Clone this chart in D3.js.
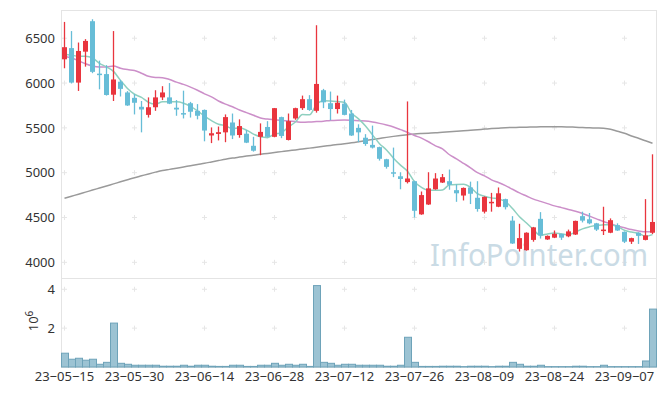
<!DOCTYPE html>
<html>
<head>
<meta charset="utf-8">
<script src="https://cdn.jsdelivr.net/npm/d3@7/dist/d3.min.js"></script>
<style>
  body { margin: 0; background: #fff; }
  svg { display: block; font-family: "Noto Sans", sans-serif; }
</style>
</head>
<body>
<svg id="chart" width="665" height="396"></svg>
<script>
// trading days 2023-05-15 .. 2023-09-13
var dates = [
  "23-05-15","23-05-16","23-05-17","23-05-18","23-05-19","23-05-22","23-05-23","23-05-24","23-05-25","23-05-26","23-05-30","23-05-31",
  "23-06-01","23-06-02","23-06-05","23-06-07","23-06-08","23-06-09","23-06-12","23-06-13","23-06-14","23-06-15","23-06-16","23-06-19",
  "23-06-20","23-06-21","23-06-22","23-06-23","23-06-26","23-06-27","23-06-28","23-06-29","23-06-30",
  "23-07-03","23-07-04","23-07-05","23-07-06","23-07-07","23-07-10","23-07-11","23-07-12","23-07-13","23-07-14","23-07-17","23-07-18",
  "23-07-19","23-07-20","23-07-21","23-07-24","23-07-25","23-07-26","23-07-27","23-07-28","23-07-31",
  "23-08-01","23-08-02","23-08-03","23-08-04","23-08-07","23-08-08","23-08-09","23-08-10","23-08-11","23-08-14","23-08-16","23-08-17",
  "23-08-18","23-08-21","23-08-22","23-08-23","23-08-24","23-08-25","23-08-28","23-08-29","23-08-30","23-08-31",
  "23-09-01","23-09-04","23-09-05","23-09-06","23-09-07","23-09-08","23-09-11","23-09-12","23-09-13"
];

var open = [6265,6390,6005,6350,6690,6105,6100,5870,6015,5895, 5835,5735,5645,5730,5840,5840,5725,5665,5775,5690,
  5700,5415,5432,5450,5560,5420,5435,5300,5400,5510, 5400,5620,5365,5605,5720,5820,5690,5920,5775,5710,
  5770,5660,5500,5390,5310,5285,5150,5005,4960,4895, 4905,4535,4645,4815,4890,4905,4805,4745,4835,4720,
  4565,4660,4620,4705,4465,4150,4135,4250,4485,4255, 4275,4318,4290,4310,4515,4480,4435,4355,4330,4415,
  4340,4230,4330,4250,4330];
var high = [6682,6580,6452,6490,6712,6250,6200,6580,6035,5910, 5875,5800,5840,5920,5965,6000,5810,5915,5790,5765,
  5705,5505,5515,5650,5660,5595,5475,5400,5550,5575, 5722,5625,5660,5725,5860,5865,6645,5935,5905,5860,
  5815,5700,5540,5430,5525,5290,5155,5280,5005,5795, 4910,4790,5005,4995,4985,5035,4870,4835,4900,4905,
  4735,4775,4835,4710,4515,4430,4335,4395,4560,4300, 4355,4320,4365,4465,4565,4550,4440,4620,4490,4435,
  4345,4275,4335,4705,5205];
var low = [6165,5995,5912,6183,6110,5930,5860,5800,5850,5745, 5650,5450,5615,5690,5810,5765,5635,5605,5615,5595,
  5350,5330,5360,5340,5375,5390,5330,5235,5195,5395, 5395,5385,5360,5590,5700,5690,5670,5720,5585,5660,
  5640,5410,5340,5300,5270,5135,5045,4950,4815,4880, 4500,4530,4640,4810,4885,4810,4675,4690,4650,4565,
  4545,4565,4615,4590,4205,4120,4130,4230,4265,4250, 4270,4250,4280,4305,4445,4425,4350,4305,4325,4350,
  4215,4205,4205,4245,4315];
var close = [6400,6005,6358,6470,6125,6095,5867,6040,5935,5750, 5780,5705,5730,5840,5895,5770,5705,5655,5680,5635,
  5470,5440,5452,5620,5415,5520,5335,5245,5455,5400, 5720,5410,5575,5720,5820,5700,5990,5785,5710,5780,
  5645,5415,5450,5320,5280,5155,5065,4990,4930,4935, 4575,4750,4825,4935,4950,4865,4770,4830,4765,4595,
  4730,4675,4770,4615,4210,4270,4330,4390,4300,4295, 4318,4275,4345,4462,4465,4435,4365,4365,4470,4355,
  4230,4270,4295,4300,4450];

// volume, millions of shares
var volume = [0.71,0.40,0.45,0.35,0.40,0.14,0.24,2.26,0.19,0.14, 0.09,0.09,0.09,0.09,0.04,0.04,0.04,0.09,0.04,0.09,
  0.09,0.04,0.03,0.03,0.09,0.09,0.03,0.03,0.09,0.09, 0.19,0.09,0.14,0.09,0.14,0.03,4.19,0.24,0.19,0.09,
  0.14,0.14,0.09,0.09,0.09,0.09,0.04,0.04,0.09,1.53, 0.24,0.03,0.03,0.03,0.04,0.04,0.04,0.02,0.04,0.04,
  0.04,0.02,0.04,0.04,0.24,0.14,0.04,0.04,0.09,0.02, 0.02,0.02,0.02,0.04,0.04,0.02,0.02,0.09,0.02,0.02,
  0.02,0.02,0.02,0.31,2.98];

// moving averages as drawn
var ma5 = [6320,6310,6300,6300,6280,6220,6180,6130,6030,5940, 5875,5840,5785,5765,5790,5790,5790,5775,5740,5690,
  5630,5580,5540,5525,5490,5500,5475,5430,5400,5391, 5431,5446,5512,5565,5649,5645,5761,5803,5801,5793,
  5782,5667,5600,5522,5422,5324,5254,5162,5084,5015, 4899,4836,4803,4804,4807,4865,4869,4870,4836,4765,
  4738,4719,4707,4677,4600,4508,4439,4363,4300,4317, 4327,4316,4307,4339,4373,4396,4414,4418,4420,4398,
  4357,4338,4324,4290,4309];
var ma20 = [6300,6280,6250,6215,6190,6180,6180,6190,6165,6150, 6140,6110,6075,6062,6060,6040,6010,5985,5955,5920,
  5880,5845,5800,5765,5735,5700,5670,5640,5610,5598, 5590,5582,5577,5570,5562,5565,5570,5575,5582,5586,
  5588,5585,5580,5576,5565,5550,5532,5510,5480,5450, 5415,5385,5345,5300,5265,5200,5155,5105,5055,5000,
  4965,4920,4890,4855,4815,4775,4740,4705,4680,4655, 4630,4610,4590,4570,4545,4515,4485,4455,4430,4405,
  4385,4365,4350,4340,4340];
var ma60 = [4714,4737,4760,4783,4806,4829,4852,4875,4898,4921, 4944,4965,4986,5006,5024,5037,5050,5064,5078,5092,
  5105,5120,5135,5150,5163,5174,5185,5195,5205,5215, 5225,5235,5245,5254,5264,5274,5284,5294,5304,5314,
  5323,5333,5345,5358,5370,5382,5394,5405,5415,5424, 5432,5437,5441,5445,5452,5458,5463,5468,5474,5480,
  5486,5492,5497,5502,5504,5506,5508,5510,5512,5513, 5513,5512,5510,5507,5504,5501,5498,5495,5485,5462,
  5440,5410,5384,5356,5328];

var priceTicks = [4000, 4500, 5000, 5500, 6000, 6500];
var volTicks = [2, 4];
var dateTicks = ["23-05-15","23-05-30","23-06-14","23-06-28","23-07-12","23-07-26","23-08-09","23-08-24","23-09-07"];

var plotLeft = 61, plotRight = 656, plotTop = 10, plotMid = 278, plotBottom = 367;
var upColor = '#e9353e', downColor = '#67bdd7';

var svg = d3.select('#chart');

var x = d3.scaleBand().domain(dates).range([plotLeft, plotRight]).padding(0);
var bw = x.bandwidth();
function xc(i) { return x(dates[i]) + bw / 2; }

var y = d3.scaleLinear().domain([3825, 6815]).range([plotMid, plotTop]);
var yv = d3.scaleLinear().domain([0, 4.58]).range([plotBottom, plotMid]);

// frame
svg.append('rect')
  .attr('x', plotLeft + 0.5).attr('y', plotTop + 0.5)
  .attr('width', plotRight - plotLeft).attr('height', plotBottom - plotTop)
  .attr('fill', 'none').attr('stroke', '#e4e4e4');
svg.append('line')
  .attr('x1', plotLeft).attr('x2', plotRight + 1)
  .attr('y1', plotMid + 0.5).attr('y2', plotMid + 0.5)
  .attr('stroke', '#e4e4e4');

// plus-shaped grid marks
var plusPts = [];
dateTicks.forEach(function(d) {
  priceTicks.forEach(function(p) { plusPts.push([x(d) + bw / 2, y(p)]); });
  volTicks.forEach(function(v) { plusPts.push([x(d) + bw / 2, yv(v)]); });
});
svg.append('g').selectAll('path')
  .data(plusPts)
  .enter()
  .append('path')
  .attr('d', function(d) {
    return 'M' + (d[0] - 2.5) + ',' + d[1] + 'h5M' + d[0] + ',' + (d[1] - 2.5) + 'v5';
  })
  .attr('stroke', '#e6e6e6')
  .attr('stroke-width', 1);

// watermark
svg.append('text')
  .attr('x', 430).attr('y', 266)
  .attr('font-size', 30)
  .attr('textLength', 218)
  .attr('lengthAdjust', 'spacingAndGlyphs')
  .attr('fill', '#cadbe5')
  .text('InfoPointer.com');

// moving averages
var line = d3.line()
  .x(function(d, i) { return xc(i); })
  .y(function(d) { return y(d); })
  .curve(d3.curveMonotoneX);

svg.append('path').datum(ma60)
  .attr('d', line).attr('fill', 'none')
  .attr('stroke', '#9a9a9a').attr('stroke-width', 1.5);
svg.append('path').datum(ma20)
  .attr('d', line).attr('fill', 'none')
  .attr('stroke', '#cc8fc9').attr('stroke-width', 1.5);
svg.append('path').datum(ma5)
  .attr('d', line).attr('fill', 'none')
  .attr('stroke', '#8fd0c0').attr('stroke-width', 1.5);

// candles
var candles = svg.append('g').selectAll('g')
  .data(dates)
  .enter()
  .append('g');

candles.append('line')
  .attr('x1', function(d, i) { return xc(i); })
  .attr('x2', function(d, i) { return xc(i); })
  .attr('y1', function(d, i) { return y(high[i]); })
  .attr('y2', function(d, i) { return y(low[i]); })
  .attr('stroke', function(d, i) { return close[i] >= open[i] ? upColor : downColor; })
  .attr('stroke-width', 1.3);

candles.append('rect')
  .attr('x', function(d, i) { return xc(i) - 2.5; })
  .attr('width', 5)
  .attr('y', function(d, i) { return y(Math.max(open[i], close[i])); })
  .attr('height', function(d, i) {
    return Math.max(1.5, Math.abs(y(open[i]) - y(close[i])));
  })
  .attr('fill', function(d, i) { return close[i] >= open[i] ? upColor : downColor; });

// volume bars
svg.append('g').selectAll('rect')
  .data(volume)
  .enter()
  .append('rect')
  .attr('x', function(d, i) { return x(dates[i]) + 0.5; })
  .attr('width', bw)
  .attr('y', function(d) { return yv(d); })
  .attr('height', function(d) { return plotBottom - yv(d); })
  .attr('fill', '#9cc3d3')
  .attr('stroke', '#6ea3b9')
  .attr('stroke-width', 1);

// axes
var yAxis = svg.append('g')
  .attr('transform', 'translate(' + plotLeft + ',0)')
  .call(d3.axisLeft(y).tickValues(priceTicks).tickSize(0).tickPadding(6).tickFormat(d3.format('d')));
var vAxis = svg.append('g')
  .attr('transform', 'translate(' + plotLeft + ',0)')
  .call(d3.axisLeft(yv).tickValues(volTicks).tickSize(0).tickPadding(6).tickFormat(d3.format('d')));
var xAxis = svg.append('g')
  .attr('transform', 'translate(0,' + plotBottom + ')')
  .call(d3.axisBottom(x).tickValues(dateTicks).tickSize(0).tickPadding(5)
    .tickFormat(function(d) { return d.replace(/-/g, '\u2212'); }));

[yAxis, vAxis, xAxis].forEach(function(g) {
  g.select('.domain').remove();
  g.selectAll('text')
    .attr('fill', '#333')
    .attr('font-size', 13)
    .attr('font-family', '"Noto Sans", sans-serif');
});

// volume unit label
var unit = svg.append('text')
  .attr('transform', 'translate(37.5,321) rotate(-90)')
  .attr('text-anchor', 'middle')
  .attr('fill', '#333')
  .attr('font-size', 13);
unit.append('tspan').text('10');
unit.append('tspan').attr('font-size', 10).attr('dy', -5).text('6');
</script>
</body>
</html>
